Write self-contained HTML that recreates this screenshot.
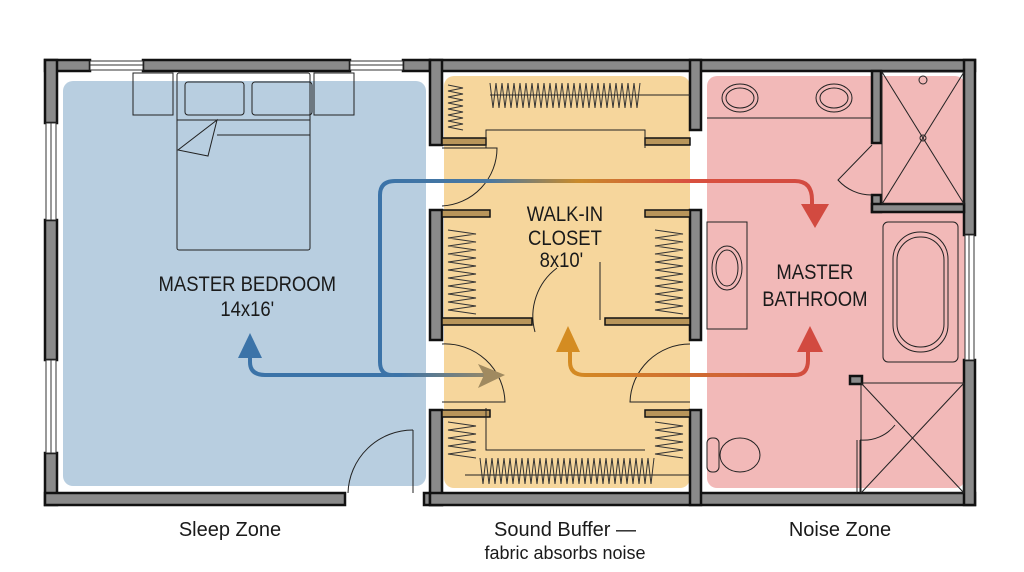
<!DOCTYPE html>
<html><head><meta charset="utf-8"><style>
html,body{margin:0;padding:0;background:#fff;}
svg{display:block;}
text{font-family:"Liberation Sans",sans-serif;fill:#1a1a1a;}
</style></head><body>
<svg width="1024" height="572" viewBox="0 0 1024 572" xmlns="http://www.w3.org/2000/svg">
<defs>
<linearGradient id="gTop" x1="380" y1="0" x2="820" y2="0" gradientUnits="userSpaceOnUse">
<stop offset="0" stop-color="#3b73a8"/><stop offset="0.25" stop-color="#4a78a0"/><stop offset="0.45" stop-color="#c98a2a"/><stop offset="0.7" stop-color="#d9503f"/><stop offset="1" stop-color="#d24a40"/></linearGradient>
<linearGradient id="gBl" x1="250" y1="0" x2="500" y2="0" gradientUnits="userSpaceOnUse">
<stop offset="0" stop-color="#3b73a8"/><stop offset="0.6" stop-color="#3b73a8"/><stop offset="1" stop-color="#a08a60"/></linearGradient>
<linearGradient id="gBot" x1="565" y1="0" x2="815" y2="0" gradientUnits="userSpaceOnUse">
<stop offset="0" stop-color="#d48c22"/><stop offset="0.45" stop-color="#d07030"/><stop offset="1" stop-color="#d24a40"/></linearGradient>
</defs>
<rect x="63" y="81" width="363" height="405" rx="10" fill="#b8cee0"/>
<rect x="444" y="76" width="246" height="412" rx="10" fill="#f6d69c"/>
<rect x="707" y="76" width="258" height="412" rx="10" fill="#f2b9b8"/>

<g fill="#8a8a8a" stroke="#111" stroke-width="2.5">
<rect x="45" y="60" width="45" height="11"/>
<rect x="143" y="60" width="207" height="11"/>
<rect x="403" y="60" width="27" height="11"/>
<rect x="45" y="60" width="12" height="63"/>
<rect x="45" y="220" width="12" height="140"/>
<rect x="45" y="453" width="12" height="52"/>
<rect x="45" y="493" width="300" height="12"/>
<rect x="424" y="493" width="18" height="12"/>
<rect x="430" y="60" width="545" height="11"/>
<rect x="430" y="60" width="12" height="85"/>
<rect x="430" y="210" width="12" height="130"/>
<rect x="430" y="410" width="12" height="95"/>
<rect x="430" y="493" width="545" height="12"/>
<rect x="690" y="60" width="11" height="70"/>
<rect x="690" y="210" width="11" height="130"/>
<rect x="690" y="410" width="11" height="95"/>
<rect x="964" y="60" width="11" height="175"/>
<rect x="964" y="360" width="11" height="145"/>
<rect x="872" y="71" width="9" height="72"/>
<rect x="872" y="195" width="9" height="17"/>
<rect x="872" y="204" width="92" height="8"/>
<rect x="850" y="376" width="12" height="8"/>
</g>
<g fill="#fff" stroke="#333" stroke-width="1">
<rect x="90" y="61" width="53" height="9"/><line x1="90" y1="65" x2="143" y2="65"/>
<rect x="350" y="61" width="53" height="9"/><line x1="350" y1="65" x2="403" y2="65"/>
<rect x="46" y="123" width="10" height="97"/><line x1="51" y1="123" x2="51" y2="220"/>
<rect x="46" y="360" width="10" height="93"/><line x1="51" y1="360" x2="51" y2="453"/>
<rect x="965" y="235" width="9" height="125"/><line x1="969" y1="235" x2="969" y2="360"/>
</g>
<g fill="#b8955a" stroke="#111" stroke-width="1.5">
<rect x="442" y="138" width="44" height="7"/>
<rect x="645" y="138" width="45" height="7"/>
<rect x="442" y="210" width="48" height="7"/>
<rect x="645" y="210" width="45" height="7"/>
<rect x="442" y="318" width="90" height="7"/>
<rect x="605" y="318" width="85" height="7"/>
<rect x="442" y="410" width="48" height="7"/>
<rect x="645" y="410" width="45" height="7"/>
</g>
<g fill="none" stroke="#222" stroke-width="1">
<rect x="133" y="73" width="40" height="42"/>
<rect x="314" y="73" width="40" height="42"/>
<rect x="177" y="73" width="133" height="177" rx="2"/>
<rect x="185" y="82" width="59" height="33" rx="3"/>
<rect x="252" y="82" width="60" height="33" rx="3"/>
<line x1="177" y1="120" x2="310" y2="120"/>
<line x1="217" y1="135" x2="310" y2="135"/>
<polygon points="217,120 178,150 208,156"/>
<line x1="413" y1="430" x2="413" y2="493"/>
<path d="M413,430 A65,65 0 0 0 348,493"/>
<path d="M442,148 L497,148 A58,58 0 0 1 442,206"/>
<path d="M442,344 A60,60 0 0 1 505,402 L442,402"/>
<path d="M690,344 A60,60 0 0 0 630,402 L690,402"/>
<path d="M557,268 A60,60 0 0 0 535,332"/>
<line x1="600" y1="262" x2="600" y2="320"/>
<path d="M486,148 L486,130 L645,130 L645,148"/>
<line x1="490" y1="95" x2="690" y2="95"/>
<path d="M486,408 L486,450 L645,450"/>
<line x1="465" y1="475" x2="690" y2="475"/>
<ellipse cx="740" cy="98" rx="18" ry="14"/><ellipse cx="740" cy="98" rx="14" ry="10"/>
<ellipse cx="834" cy="98" rx="18" ry="14"/><ellipse cx="834" cy="98" rx="14" ry="10"/>
<line x1="707" y1="118" x2="872" y2="118"/>
<rect x="707" y="222" width="40" height="107"/>
<ellipse cx="727" cy="268" rx="15" ry="22"/><ellipse cx="727" cy="268" rx="11" ry="18"/>
<rect x="882" y="72" width="82" height="132"/>
<line x1="882" y1="72" x2="964" y2="204"/><line x1="964" y1="72" x2="882" y2="204"/>
<circle cx="923" cy="138" r="3"/><circle cx="923" cy="80" r="4"/>
<path d="M872,145 L838,180 A45,45 0 0 0 872,195"/>
<rect x="883" y="222" width="75" height="140" rx="5"/>
<rect x="893" y="232" width="55" height="120" rx="27"/>
<rect x="897" y="237" width="47" height="110" rx="23"/>
<rect x="861" y="383" width="103" height="110"/>
<line x1="861" y1="383" x2="964" y2="493"/><line x1="964" y1="383" x2="861" y2="493"/>
<line x1="857" y1="440" x2="857" y2="493"/><line x1="860" y1="440" x2="860" y2="493"/>
<path d="M860,440 A40,40 0 0 0 895,425"/>
<rect x="707" y="438" width="12" height="34" rx="5"/>
<ellipse cx="740" cy="455" rx="20" ry="17"/>
</g>
<g fill="none" stroke="#333" stroke-width="1">
<path d="M448,85 l15,3 l-15,3 l15,3 l-15,3 l15,3 l-15,3 l15,3 l-15,3 l15,3 l-15,3 l15,3 l-15,3 l15,3 l-15,3 l15,3"/>
<path d="M490,83 l3,25 l3,-25 l3,25 l3,-25 l3,25 l3,-25 l3,25 l3,-25 l3,25 l3,-25 l3,25 l3,-25 l3,25 l3,-25 l3,25 l3,-25 l3,25 l3,-25 l3,25 l3,-25 l3,25 l3,-25 l3,25 l3,-25 l3,25 l3,-25 l3,25 l3,-25 l3,25 l3,-25 l3,25 l3,-25 l3,25 l3,-25 l3,25 l3,-25 l3,25 l3,-25 l3,25 l3,-25 l3,25 l3,-25 l3,25 l3,-25 l3,25 l3,-25 l3,25 l3,-25 l3,25 l3,-25"/>
<path d="M448,230 l28,4 l-28,4 l28,4 l-28,4 l28,4 l-28,4 l28,4 l-28,4 l28,4 l-28,4 l28,4 l-28,4 l28,4 l-28,4 l28,4 l-28,4 l28,4 l-28,4 l28,4 l-28,4 l28,4"/>
<path d="M655,230 l28,4 l-28,4 l28,4 l-28,4 l28,4 l-28,4 l28,4 l-28,4 l28,4 l-28,4 l28,4 l-28,4 l28,4 l-28,4 l28,4 l-28,4 l28,4 l-28,4 l28,4 l-28,4 l28,4"/>
<path d="M448,422 l28,4 l-28,4 l28,4 l-28,4 l28,4 l-28,4 l28,4 l-28,4 l28,4"/>
<path d="M655,422 l28,4 l-28,4 l28,4 l-28,4 l28,4 l-28,4 l28,4 l-28,4 l28,4"/>
<path d="M480,458 l3,26 l3,-26 l3,26 l3,-26 l3,26 l3,-26 l3,26 l3,-26 l3,26 l3,-26 l3,26 l3,-26 l3,26 l3,-26 l3,26 l3,-26 l3,26 l3,-26 l3,26 l3,-26 l3,26 l3,-26 l3,26 l3,-26 l3,26 l3,-26 l3,26 l3,-26 l3,26 l3,-26 l3,26 l3,-26 l3,26 l3,-26 l3,26 l3,-26 l3,26 l3,-26 l3,26 l3,-26 l3,26 l3,-26 l3,26 l3,-26 l3,26 l3,-26 l3,26 l3,-26 l3,26 l3,-26 l3,26 l3,-26 l3,26 l3,-26 l3,26 l3,-26 l3,26 l3,-26"/>
</g>
<g fill="none" stroke-width="4" stroke-linecap="round">
<path d="M250,350 L250,362 Q250,375 265,375 L485,375" stroke="url(#gBl)"/>
<path d="M392,375 Q380,375 380,362 L380,195 Q380,181 395,181 L795,181 Q812,181 812,200 L812,212" stroke="url(#gTop)"/>
<path d="M570,345 L570,362 Q570,375 585,375 L795,375 Q808,375 808,360 L808,345" stroke="url(#gBot)"/>
</g>
<polygon points="250,333 238,358 262,358" fill="#3b73a8"/>
<polygon points="505,375 478,364 484,375 478,388" fill="#a08a60"/>
<polygon points="815,228 801,204 829,204" fill="#d24a40"/>
<polygon points="568,326 556,352 580,352" fill="#d48c22"/>
<polygon points="810,326 797,352 823,352" fill="#d24a40"/>
<g font-size="21" text-anchor="middle" transform="scale(0.88,1)">
<text x="281" y="291">MASTER BEDROOM</text>
<text x="281" y="316">14x16'</text>
<text x="642" y="221">WALK-IN</text>
<text x="642" y="245">CLOSET</text>
<text x="638" y="267">8x10'</text>
<text x="926" y="279">MASTER</text>
<text x="926" y="306">BATHROOM</text>
</g>
<g font-size="20" text-anchor="middle">
<text x="230" y="536">Sleep Zone</text>
<text x="565" y="536">Sound Buffer —</text>
<text x="565" y="559" font-size="18">fabric absorbs noise</text>
<text x="840" y="536">Noise Zone</text>
</g>
</svg>
</body></html>
